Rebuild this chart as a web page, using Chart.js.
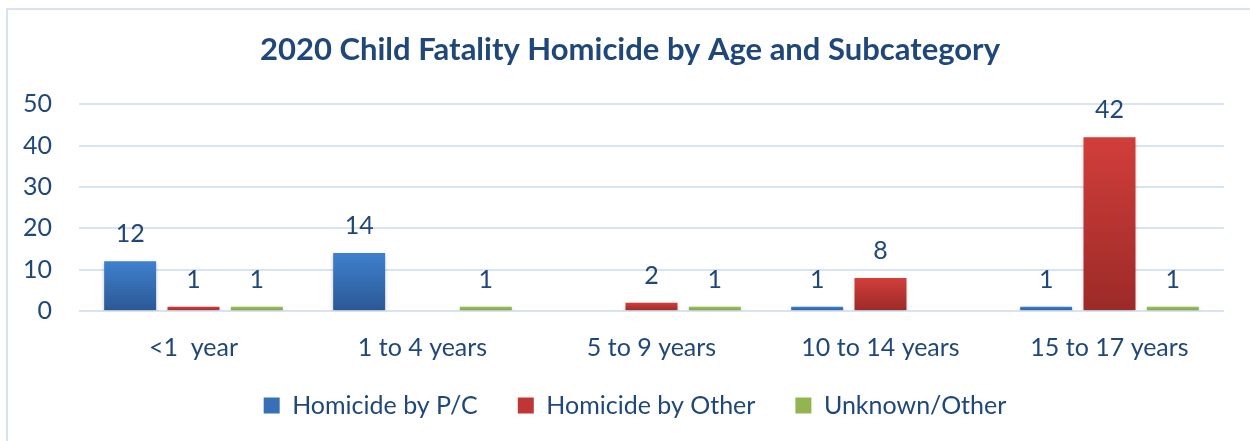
<!DOCTYPE html>
<html>
<head>
<meta charset="utf-8">
<script src="https://cdn.jsdelivr.net/npm/chart.js@4.4.0/dist/chart.umd.min.js"></script>
<style>
  html, body { margin: 0; padding: 0; background: #fff; overflow: hidden; }
  .frame { position: absolute; left: 6px; top: 8px; width: 1400px; height: 600px; border: 2px solid #D7E3F3; }
  .wrap { position: absolute; left: 0; top: 0; width: 1250px; height: 441px; }
</style>
</head>
<body>
<div class="frame"></div>
<div class="wrap"><canvas id="fatalityChart" width="1250" height="441"></canvas></div>
<script>
const categories = ['<1  year', '1 to 4 years', '5 to 9 years', '10 to 14 years', '15 to 17 years'];
const homicidePC = [12, 14, 0, 1, 1];
const homicideOther = [1, 0, 2, 8, 42];
const unknownOther = [1, 1, 1, 0, 1];
const yTicks = [0, 10, 20, 30, 40, 50];

const textColor = '#1F477A';
const fontFamily = 'Lato, "Open Sans", sans-serif';

// vertical gradient from bar top to baseline
function barGradient(top, bottom) {
    return (c) => {
        const chart = c.chart;
        if (!chart.chartArea || c.type !== 'data') return top;
        const y = chart.scales.y;
        const y0 = y.getPixelForValue(0);
        const y1 = y.getPixelForValue(c.raw || 0);
        if (y0 - y1 < 2) return top;
        const g = chart.ctx.createLinearGradient(0, y1, 0, y0);
        g.addColorStop(0, top);
        g.addColorStop(1, bottom);
        return g;
    };
}

// soft shadow under the bars
const barShadow = {
    id: 'barShadow',
    beforeDatasetsDraw(chart) {
        const ctx = chart.ctx;
        ctx.save();
        ctx.shadowColor = 'rgba(0,0,0,0.22)';
        ctx.shadowBlur = 4;
        ctx.shadowOffsetY = 2;
    },
    afterDatasetsDraw(chart) {
        chart.ctx.restore();
    }
};

// fixed legend height, then nudge title and legend into place
const blockPlacement = {
    id: 'blockPlacement',
    afterInit(chart) {
        const fit = chart.legend.fit;
        chart.legend.fit = function () {
            fit.call(this);
            this.height = 78;
        };
    },
    afterLayout(chart) {
        const t = chart.titleBlock;
        t.left += 18; t.right += 18;
        const l = chart.legend;
        l.left += 23; l.right += 23;
        l.top -= 10; l.bottom -= 10;
    }
};

// value labels above the bars
const valueLabels = {
    id: 'valueLabels',
    afterDraw(chart) {
        const ctx = chart.ctx;
        ctx.save();
        ctx.font = '25px ' + fontFamily;
        ctx.fillStyle = textColor;
        ctx.textAlign = 'center';
        ctx.textBaseline = 'middle';
        chart.data.datasets.forEach((ds, i) => {
            const meta = chart.getDatasetMeta(i);
            meta.data.forEach((bar, j) => {
                const v = ds.data[j];
                if (!v) return;
                ctx.fillText(String(v), bar.x, bar.y - 27);
            });
        });
        ctx.restore();
    }
};

const ctx = document.getElementById('fatalityChart').getContext('2d');
const fatalityChart = new Chart(ctx, {
    type: 'bar',
    data: {
        labels: categories,
        datasets: [{
            label: 'Homicide by P/C',
            data: homicidePC,
            backgroundColor: barGradient('#3F80CE', '#2B5894'),
            categoryPercentage: 0.83,
            barPercentage: 0.82
        }, {
            label: 'Homicide by Other',
            data: homicideOther,
            backgroundColor: barGradient('#D13E3B', '#9C2A27'),
            categoryPercentage: 0.83,
            barPercentage: 0.82
        }, {
            label: 'Unknown/Other',
            data: unknownOther,
            backgroundColor: barGradient('#9DC05A', '#7FA03E'),
            categoryPercentage: 0.83,
            barPercentage: 0.82
        }]
    },
    options: {
        responsive: false,
        animation: false,
        layout: { padding: { left: 0, right: 26, top: 0, bottom: 0 } },
        plugins: {
            title: {
                display: true,
                text: '2020 Child Fatality Homicide by Age and Subcategory',
                color: textColor,
                font: { family: fontFamily, size: 31, weight: 'bold' },
                padding: { top: 31, bottom: 36 }
            },
            legend: {
                position: 'bottom',
                labels: {
                    color: textColor,
                    font: { family: fontFamily, size: 25 },
                    boxWidth: 16,
                    boxHeight: 16,
                    padding: 40,
                    generateLabels(chart) {
                        const solid = ['#3670B8', '#BE3734', '#92B552'];
                        return chart.data.datasets.map((ds, i) => ({
                            text: ds.label,
                            fillStyle: solid[i],
                            strokeStyle: solid[i],
                            lineWidth: 0,
                            fontColor: textColor,
                            datasetIndex: i
                        }));
                    }
                }
            },
            tooltip: { enabled: false }
        },
        scales: {
            x: {
                grid: { display: false, drawTicks: false },
                border: { display: false },
                afterFit(scale) { scale.height = 52; },
                ticks: {
                    color: textColor,
                    font: { family: fontFamily, size: 25 },
                    padding: 22,
                    maxRotation: 0
                }
            },
            y: {
                min: 0,
                max: 50,
                afterBuildTicks(scale) {
                    scale.ticks = yTicks.map(v => ({ value: v }));
                },
                afterFit(scale) { scale.width = 79; },
                grid: { color: '#D9E4F2', lineWidth: 2, drawTicks: false },
                border: { display: false },
                ticks: {
                    color: textColor,
                    font: { family: fontFamily, size: 25 },
                    padding: 27
                }
            }
        }
    },
    plugins: [barShadow, blockPlacement, valueLabels]
});
</script>
</body>
</html>
